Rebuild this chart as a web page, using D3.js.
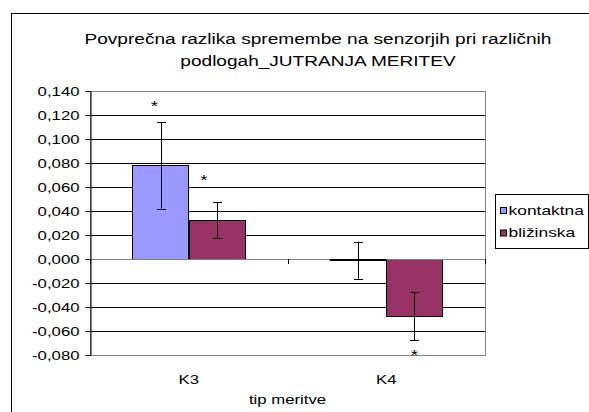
<!DOCTYPE html>
<html>
<head>
<meta charset="utf-8">
<script src="https://cdn.jsdelivr.net/npm/d3@7"></script>
<style>
  html, body { margin: 0; padding: 0; background: #fff; }
  svg { display: block; font-family: "Liberation Sans", Arial, sans-serif; }
</style>
</head>
<body>
<div id="chart"></div>
<script>
// data
var categories = ["K3", "K4"];
var seriesNames = ["kontaktna", "bližinska"];
var kontaktna = [0.078, -0.001];
var blizinska = [0.0325, -0.0475];
var errKontaktna = [0.036, 0.0155];
var errBlizinska = [0.015, 0.020];
// significance stars: [category, series, y value]
var stars = [["K3", 0, 0.130], ["K3", 1, 0.0685], ["K4", 1, -0.0775]];
var yTicks = [0.14, 0.12, 0.10, 0.08, 0.06, 0.04, 0.02, 0, -0.02, -0.04, -0.06, -0.08];

var COLORS = ["#9999ff", "#993366"];
var W = 589, H = 412;
var PL = 90, PR = 485, PT = 91, PB = 355;
var SX = 1.34;   // the source picture is stretched sideways, text included

var svg = d3.select("#chart").append("svg").attr("width", W).attr("height", H);

// place a text at (x,y) with glyphs widened by sx
function wide(sel, x, y, sx) {
  return sel.attr("x", x / sx).attr("y", y).attr("transform", "scale(" + sx + ",1)");
}

// outer chart border
svg.append("rect").attr("x", 11.5).attr("y", 13.5).attr("width", 640).attr("height", 440)
  .attr("fill", "#fff").attr("stroke", "#000").attr("stroke-width", 1);

// title
var TSX = 1.23;
[["Povprečna razlika spremembe na senzorjih pri različnih", 44.5],
 ["podlogah_JUTRANJA MERITEV", 66.5]].forEach(function (l) {
  wide(svg.append("text"), 318, l[1], TSX).attr("text-anchor", "middle")
    .style("font-size", "15.5px").attr("fill", "#000").text(l[0]);
});

var y = d3.scaleLinear().domain([-0.08, 0.14]).range([PB, PT]);
var x0 = d3.scaleBand().domain(categories).range([PL, PR]).padding(0);
var x1 = d3.scaleBand().domain([0, 1])
  .range([x0.bandwidth() * 0.214, x0.bandwidth() * 0.786]).padding(0);

var g = svg.append("g");

// gridlines
g.selectAll("line.grid").data(yTicks.filter(function (d) { return d !== 0 && d !== 0.14 && d !== -0.08; }))
  .enter().append("line").attr("class", "grid")
  .attr("x1", PL).attr("x2", PR)
  .attr("y1", function (d) { return Math.round(y(d)) + 0.5; })
  .attr("y2", function (d) { return Math.round(y(d)) + 0.5; })
  .attr("stroke", "#000").attr("stroke-width", 1);

// plot area border (grey)
g.append("rect").attr("x", PL + 0.5).attr("y", PT + 0.5).attr("width", PR - PL).attr("height", PB - PT)
  .attr("fill", "none").attr("stroke", "#808080").attr("stroke-width", 1);

// bars
var series = [kontaktna, blizinska];
var errs = [errKontaktna, errBlizinska];
var bars = [];
categories.forEach(function (c, ci) {
  series.forEach(function (s, si) {
    bars.push({ cat: c, si: si, v: s[ci], e: errs[si][ci] });
  });
});

g.selectAll("rect.bar").data(bars).enter().append("rect").attr("class", "bar")
  .attr("x", function (d) { return Math.round(x0(d.cat) + x1(d.si)) + 0.5; })
  .attr("width", function () { return Math.round(x1.bandwidth()); })
  .attr("y", function (d) { return Math.round(y(Math.max(0, d.v))) + 0.5; })
  .attr("height", function (d) { return Math.max(1, Math.round(Math.abs(y(d.v) - y(0)))); })
  .attr("fill", function (d) { return COLORS[d.si]; })
  .attr("stroke", "#000").attr("stroke-width", 1);

// zero axis line
g.append("line").attr("x1", PL).attr("x2", PR).attr("y1", Math.round(y(0)) + 0.5).attr("y2", Math.round(y(0)) + 0.5)
  .attr("stroke", "#808080").attr("stroke-width", 1);
// near-zero bar shows as a thick line on the axis
g.selectAll("line.flat").data(bars.filter(function (d) { return Math.abs(y(d.v) - y(0)) < 2; }))
  .enter().append("line").attr("class", "flat")
  .attr("x1", function (d) { return x0(d.cat) + x1(d.si); })
  .attr("x2", function (d) { return x0(d.cat) + x1(d.si) + x1.bandwidth(); })
  .attr("y1", y(0) + 1).attr("y2", y(0) + 1)
  .attr("stroke", "#000").attr("stroke-width", 2);

// category tick marks
[PL, x0("K4"), PR].forEach(function (t) {
  g.append("line").attr("x1", Math.round(t) + 0.5).attr("x2", Math.round(t) + 0.5)
    .attr("y1", y(0)).attr("y2", y(0) + 5).attr("stroke", "#000");
});

// error bars
var eb = g.selectAll("g.err").data(bars).enter().append("g").attr("class", "err");
eb.each(function (d) {
  var cx = Math.round(x0(d.cat) + x1(d.si) + x1.bandwidth() / 2) + 0.5;
  var t = y(d.v + d.e), b = y(d.v - d.e), sel = d3.select(this);
  sel.append("line").attr("x1", cx).attr("x2", cx).attr("y1", t).attr("y2", b).attr("stroke", "#000");
  [t, b].forEach(function (yy) {
    sel.append("line").attr("x1", cx - 4.5).attr("x2", cx + 4.5).attr("y1", Math.round(yy) + 0.5).attr("y2", Math.round(yy) + 0.5)
      .attr("stroke", "#000");
  });
});

// stars
var starDx = [-6, -13];
stars.forEach(function (d) {
  var sx = x0(d[0]) + x1(d[1]) + x1.bandwidth() / 2 + (d[0] === "K3" ? starDx[d[1]] : 0);
  wide(g.append("text"), sx, y(d[2]) + 8, SX).attr("text-anchor", "middle")
    .style("font-size", "14px").text("*");
});

// y axis
var yAxis = d3.axisLeft(y).tickValues(yTicks).tickSize(5).tickSizeOuter(0)
  .tickFormat(function (d) { return d3.format(".3f")(d).replace(".", ",").replace("−", "-"); });
var ya = svg.append("g").attr("transform", "translate(" + (PL + 0.5) + ",0)").call(yAxis);
ya.select(".domain").attr("stroke", "#000");
ya.selectAll(".tick line").attr("stroke", "#000");
ya.selectAll(".tick text").attr("x", -11 / SX).attr("transform", "scale(" + SX + ",1)")
  .style("font-size", "12.5px")
  .style("font-family", "'Liberation Sans', Arial, sans-serif").attr("fill", "#000");

// category labels
categories.forEach(function (c) {
  wide(svg.append("text"), x0(c) + x0.bandwidth() / 2, 384, SX).attr("text-anchor", "middle")
    .style("font-size", "12.5px").text(c);
});
wide(svg.append("text"), (PL + PR) / 2, 404, SX).attr("text-anchor", "middle")
  .style("font-size", "12.5px").text("tip meritve");

// legend
var lg = svg.append("g").attr("transform", "translate(495,194)");
lg.append("rect").attr("x", 0.5).attr("y", 0.5).attr("width", 93).attr("height", 54)
  .attr("fill", "#fff").attr("stroke", "#000");
seriesNames.forEach(function (n, i) {
  lg.append("rect").attr("x", 5.5).attr("y", 13.5 + i * 22.5).attr("width", 6).attr("height", 6)
    .attr("fill", COLORS[i]).attr("stroke", "#000");
  wide(lg.append("text"), 13.5, 21 + i * 22.5, SX).style("font-size", "13px").text(n);
});
</script>
</body>
</html>
